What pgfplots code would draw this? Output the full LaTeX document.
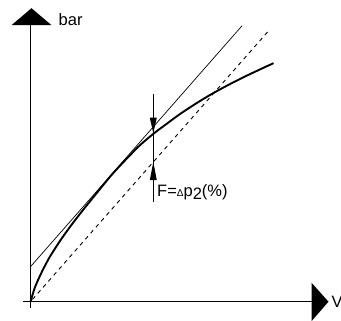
\documentclass[border=0pt]{standalone}
\usepackage{pgfplots}
\pgfplotsset{compat=1.18}
\usepackage{fontspec}
\setmainfont{Liberation Sans}
\begin{document}
\begin{tikzpicture}
\useasboundingbox (0,0) rectangle (341pt,321pt);
\clip (0,0) rectangle (341pt,321pt);
\begin{axis}[
  at={(0,0)}, anchor=south west,
  x=1pt, y=1pt,
  xmin=-30.5, xmax=310.5, ymin=-19.3, ymax=301.7,
  hide axis, clip=false,
]
% axes
\addplot[black, line width=1.1pt] coordinates {(0,-6) (0,277)};
\fill[black] (axis cs:-19,276.5) -- (axis cs:21,276.5) -- (axis cs:1,293.5) -- cycle;
\addplot[black, line width=1.1pt] coordinates {(-7.5,0) (281,0)};
\fill[black] (axis cs:281,-19.5) -- (axis cs:281,19) -- (axis cs:298,0) -- cycle;
\node[anchor=west, inner sep=0pt, font=\fontsize{16.5}{18}\selectfont] at (axis cs:301,0) {V};
\node[anchor=base west, inner sep=0pt, font=\fontsize{16.5}{18}\selectfont] at (axis cs:28,276.4) {bar};
% tangent
\addplot[black, line width=0.7pt] coordinates {(0,35) (211.6,276)};
% dashed
\addplot[black, line width=0.9pt, dash pattern=on 4pt off 4pt] coordinates {(2,2.3) (238.8,271.7)};
% curve
\addplot[black, line width=1.9pt, smooth] coordinates {
(0,0) (2,6.8) (5,15.8) (10,27) (15,37) (20,46) (30,61.5) (40,75.5) (50,88.5) (60,101) (70,113.3) (80,125.5) (90,136.5) (100,147) (110,157) (123,168) (135,177) (150,188) (170,201) (188,211.5) (210,223) (230,232.5) (243,238.5)
};
% vertical marker
\addplot[black, line width=0.9pt] coordinates {(122.8,100) (122.8,207.7)};
\fill[black] (axis cs:119.3,184) -- (axis cs:126.3,184) -- (axis cs:122.8,168.5) -- cycle;
\fill[black] (axis cs:119.3,121.5) -- (axis cs:126.3,121.5) -- (axis cs:122.8,139.8) -- cycle;
\node[anchor=base west, inner sep=0pt, font=\fontsize{16.5}{18}\selectfont] at (axis cs:126.5,105) {F=\raisebox{0.5pt}{\fontsize{10}{10}\selectfont Δ}p\raisebox{-3.3pt}{2}(\%)};
\end{axis}
\end{tikzpicture}
\end{document}
